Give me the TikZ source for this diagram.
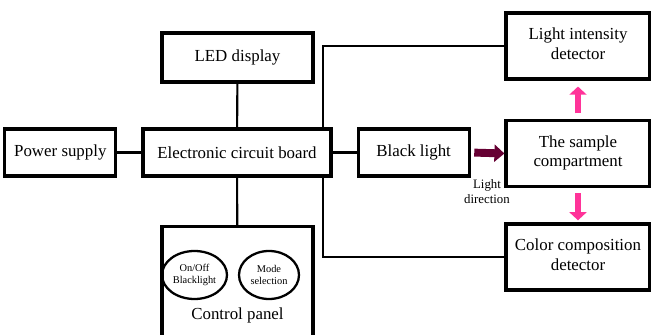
\documentclass[tikz,border=0pt]{standalone}
\usepackage{fontspec}
\setmainfont{Liberation Serif}
\newfontfamily\diagfont{Liberation Serif}
\usetikzlibrary{arrows.meta, positioning, shapes.geometric}

\definecolor{lightred}{HTML}{660033}
\definecolor{pinkarrow}{HTML}{FF3399}

\begin{document}
\begin{tikzpicture}[
    node distance=0.48cm,
    box/.style={rectangle, draw, line width=1.8pt, align=center, minimum height=0.94cm, font=\diagfont\fontsize{9.6}{11}\selectfont},
    tallbox/.style={box, minimum width=2.88cm, minimum height=1.32cm, text depth=0.1cm},
    knob/.style={ellipse, draw, line width=1.3pt, align=center, inner sep=0pt, minimum height=0.96cm, font=\diagfont\fontsize{5.9}{7}\selectfont},
    link/.style={line width=1.2pt},
    lightarrow/.style={-{Triangle[width=9.6pt, length=5.7pt]}, line width=4.5pt, lightred},
    outarrow/.style={-{Triangle[width=9.6pt, length=4.6pt]}, line width=3.4pt, pinkarrow}
]
\useasboundingbox (0,0) rectangle (13.02,-6.7);

\node[box, minimum width=3.76cm] (ecb) at (4.74,-3.05) {Electronic circuit board};
\node[box, minimum width=2.22cm, left=of ecb] (power) {Power supply};
\node[box, minimum width=2.22cm, right=of ecb] (black) {Black light};
\node[box, minimum width=3.02cm, minimum height=0.98cm] (led) at (4.75,-1.15) {LED display};

\node[tallbox] (sample) at (11.56,-3.07) {The sample\\compartment};
\node[tallbox] (intensity) at (11.56,-0.92) {Light intensity\\detector};
\node[tallbox] (color) at (11.56,-5.14) {Color composition\\detector};

% control panel runs off the bottom edge
\node[box, minimum width=3.02cm, minimum height=2.4cm, anchor=north] (panel) at (4.75,-4.5) {};
\node[font=\diagfont\fontsize{9.6}{11}\selectfont] (paneltext) at (4.75,-6.3) {Control panel};
\node[knob, minimum width=1.3cm] (onoff) at (3.89,-5.5) {On/Off\\Blacklight};
\node[knob, minimum width=1.2cm] (mode) at (5.38,-5.5) {Mode\\selection};

\node[align=center, font=\diagfont\fontsize{7.3}{8.6}\selectfont] (dirtext) at (9.74,-3.84) {Light\\direction};

\coordinate (tap) at (6.46,0);

\draw[link] (power) -- (ecb);
\draw[link] (ecb) -- (black);
\draw[link] (led) -- (ecb);
\draw[link] (ecb) -- (panel);
\draw[link] (ecb.north -| tap) |- (intensity.west);
\draw[link] (ecb.south -| tap) |- (color.west);

\draw[lightarrow, shorten <=2pt] (black.east) -- (sample.west);
\draw[outarrow, shorten <=3.2pt, shorten >=3.4pt] (sample.north) -- (intensity.south);
\draw[outarrow, shorten <=3pt, shorten >=1.2pt] (sample.south) -- (color.north);
\end{tikzpicture}
\end{document}
